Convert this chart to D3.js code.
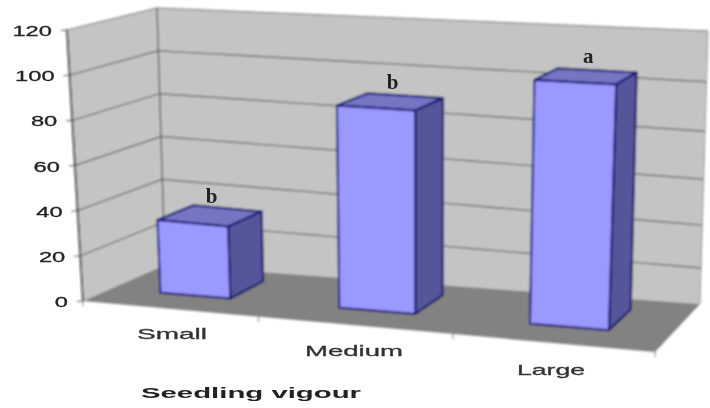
<!DOCTYPE html>
<html><head><meta charset="utf-8">
<script src="https://cdn.jsdelivr.net/npm/d3@7"></script>
<style>html,body{margin:0;padding:0;background:#fff}svg{display:block}</style>
</head><body><div id="chart"></div>
<script>
const categories = ["Small", "Medium", "Large"];
const values = [33, 89.5, 104.7];
const letters = ["b", "b", "a"];
const yTicks = [0, 20, 40, 60, 80, 100, 120];
const xLabel = "Seedling vigour";

const W = 710, H = 408;
// frame corners of the 3D box, [x,y]: front/back, left/right, bottom/top
const box = {
  fl0:[83,301], fr0:[655,352], bl0:[165,265], br0:[700,304],
  fl1:[67,30],  fr1:[668,55],  bl1:[157,8],   br1:[708,31]
};
const xS = d3.scaleBand().domain(categories).range([0.0215, 0.9795]).paddingInner(0.597).paddingOuter(0.25);
const yS = d3.scaleLinear().domain([0, 120]).range([0, 1]);
const uS = d3.scalePow().exponent(1.075).domain([0, 1]).range([0, 1]);

const mix = (a, b, t) => [a[0] + (b[0]-a[0])*t, a[1] + (b[1]-a[1])*t];
function project(uRaw, val, w) {
  const u = uS(uRaw), t = Math.pow(yS(val), 1 + 0.13 * u);
  const f0 = mix(box.fl0, box.fr0, u), f1 = mix(box.fl1, box.fr1, u);
  const b0 = mix(box.bl0, box.br0, u), b1 = mix(box.bl1, box.br1, u);
  return mix(mix(f0, b0, w), mix(f1, b1, w), t);
}
const poly = pts => "M" + pts.map(p => p.map(n => n.toFixed(1)).join(",")).join("L") + "Z";
const line = pts => "M" + pts.map(p => p.map(n => n.toFixed(1)).join(",")).join("L");

const svg = d3.select("#chart").append("svg").attr("width", W).attr("height", H);
const defs = svg.append("defs");
defs.append("filter").attr("id","soft").attr("x","-5%").attr("y","-5%").attr("width","110%").attr("height","110%")
  .append("feGaussianBlur").attr("stdDeviation", 0.85);
defs.append("filter").attr("id","softT").attr("x","-5%").attr("y","-5%").attr("width","110%").attr("height","110%")
  .append("feGaussianBlur").attr("stdDeviation", 0.7);
const g = svg.append("g").attr("filter","url(#soft)");

// walls
g.append("path").attr("d", poly([project(0,0,0),project(0,120,0),project(0,120,1),project(0,0,1)])).attr("fill","#c4c4c4");
g.append("path").attr("d", poly([project(0,0,1),project(0,120,1),project(1,120,1),project(1,0,1)])).attr("fill","#c4c4c4");
// floor
g.append("path").attr("d", poly([project(0,0,0),project(0,0,1),project(1,0,1),project(1,0,0)])).attr("fill","#828282");
// grid: left wall, then along the back wall in small steps because the projection bends
yTicks.filter(v => v > 0).forEach(v => {
  g.append("path").attr("d", line([project(0,v,0),project(0,v,1)].concat(d3.range(1,21).map(k => project(k/20,v,1)))))
    .attr("fill","none").attr("stroke","#707070").attr("stroke-width", v === 120 ? 1 : 1.4);
});
g.append("path").attr("d", line([project(0,0,1),project(0,120,1)])).attr("stroke","#5c5c5c").attr("stroke-width",1.4).attr("fill","none");
g.append("path").attr("d", line([project(1,0,1),project(1,120,1)])).attr("stroke","#999").attr("stroke-width",1).attr("fill","none");
// y axis
g.append("path").attr("d", line([project(0,0,0),project(0,120,0)])).attr("stroke","#111").attr("stroke-width",1.6).attr("fill","none");
yTicks.forEach(v => {
  const p = project(0,v,0);
  g.append("path").attr("d", line([[p[0]-6,p[1]+0.5],p])).attr("stroke","#555").attr("fill","none");
});
// x axis ticks
d3.range(0, 4).forEach(i => {
  const p = project(i/3,0,0);
  g.append("path").attr("d", line([p,[p[0],p[1]+5]])).attr("stroke","#777").attr("fill","none");
});
// bars
const w0 = 0.345, w1 = 0.79;
categories.forEach((c, i) => {
  const a = xS(c), b = a + xS.bandwidth(), v = values[i];
  const s = {stroke:"#10106e","stroke-width":2,"stroke-linejoin":"round"};
  const face = (pts, fill) => { const e = g.append("path").attr("d", poly(pts)).attr("fill", fill);
    Object.entries(s).forEach(([k,x]) => e.attr(k,x)); };
  face([project(a,v,w0),project(b,v,w0),project(b,v,w1),project(a,v,w1)], "#7474c4");
  face([project(b,0,w0),project(b,v,w0),project(b,v,w1),project(b,0,w1)], "#54549a");
  face([project(a,0,w0),project(a,v,w0),project(b,v,w0),project(b,0,w0)], "#9999ff");
});
// text
const t = svg.append("g").attr("filter","url(#softT)").attr("font-family","'Liberation Sans',Arial,sans-serif");
yTicks.forEach(v => {
  const p = project(0,v,0);
  t.append("text").attr("x", p[0]-15).attr("y", p[1]+6).attr("text-anchor","end")
    .attr("font-size",15.5).attr("fill","#222").attr("stroke","#222").attr("stroke-width",0.3)
    .attr("textLength", String(v).length*13.2).attr("lengthAdjust","spacingAndGlyphs").text(v);
});
const labelPos = [[172,339,70],[354,356,98],[551,375,68]];
categories.forEach((c,i) => {
  const [x,y,l] = labelPos[i];
  t.append("text").attr("x",x).attr("y",y).attr("text-anchor","middle").attr("font-size",15).attr("fill","#333")
    .attr("stroke","#333").attr("stroke-width",0.3)
    .attr("textLength",l).attr("lengthAdjust","spacingAndGlyphs").text(c);
});
t.append("text").attr("x",251).attr("y",398).attr("text-anchor","middle").attr("font-size",15.5).attr("font-weight","bold").attr("fill","#222")
  .attr("textLength",220).attr("lengthAdjust","spacingAndGlyphs").text(xLabel);
categories.forEach((c,i) => {
  const a = xS(c) + xS.bandwidth()/2, p = project(a, values[i], (w0+w1)/2);
  t.append("text").attr("x",p[0]+2).attr("y",p[1]-13).attr("text-anchor","middle")
   .attr("font-family","'Liberation Serif',serif").attr("font-weight","bold").attr("font-size",21).attr("fill","#222").text(letters[i]);
});
</script></body></html>
